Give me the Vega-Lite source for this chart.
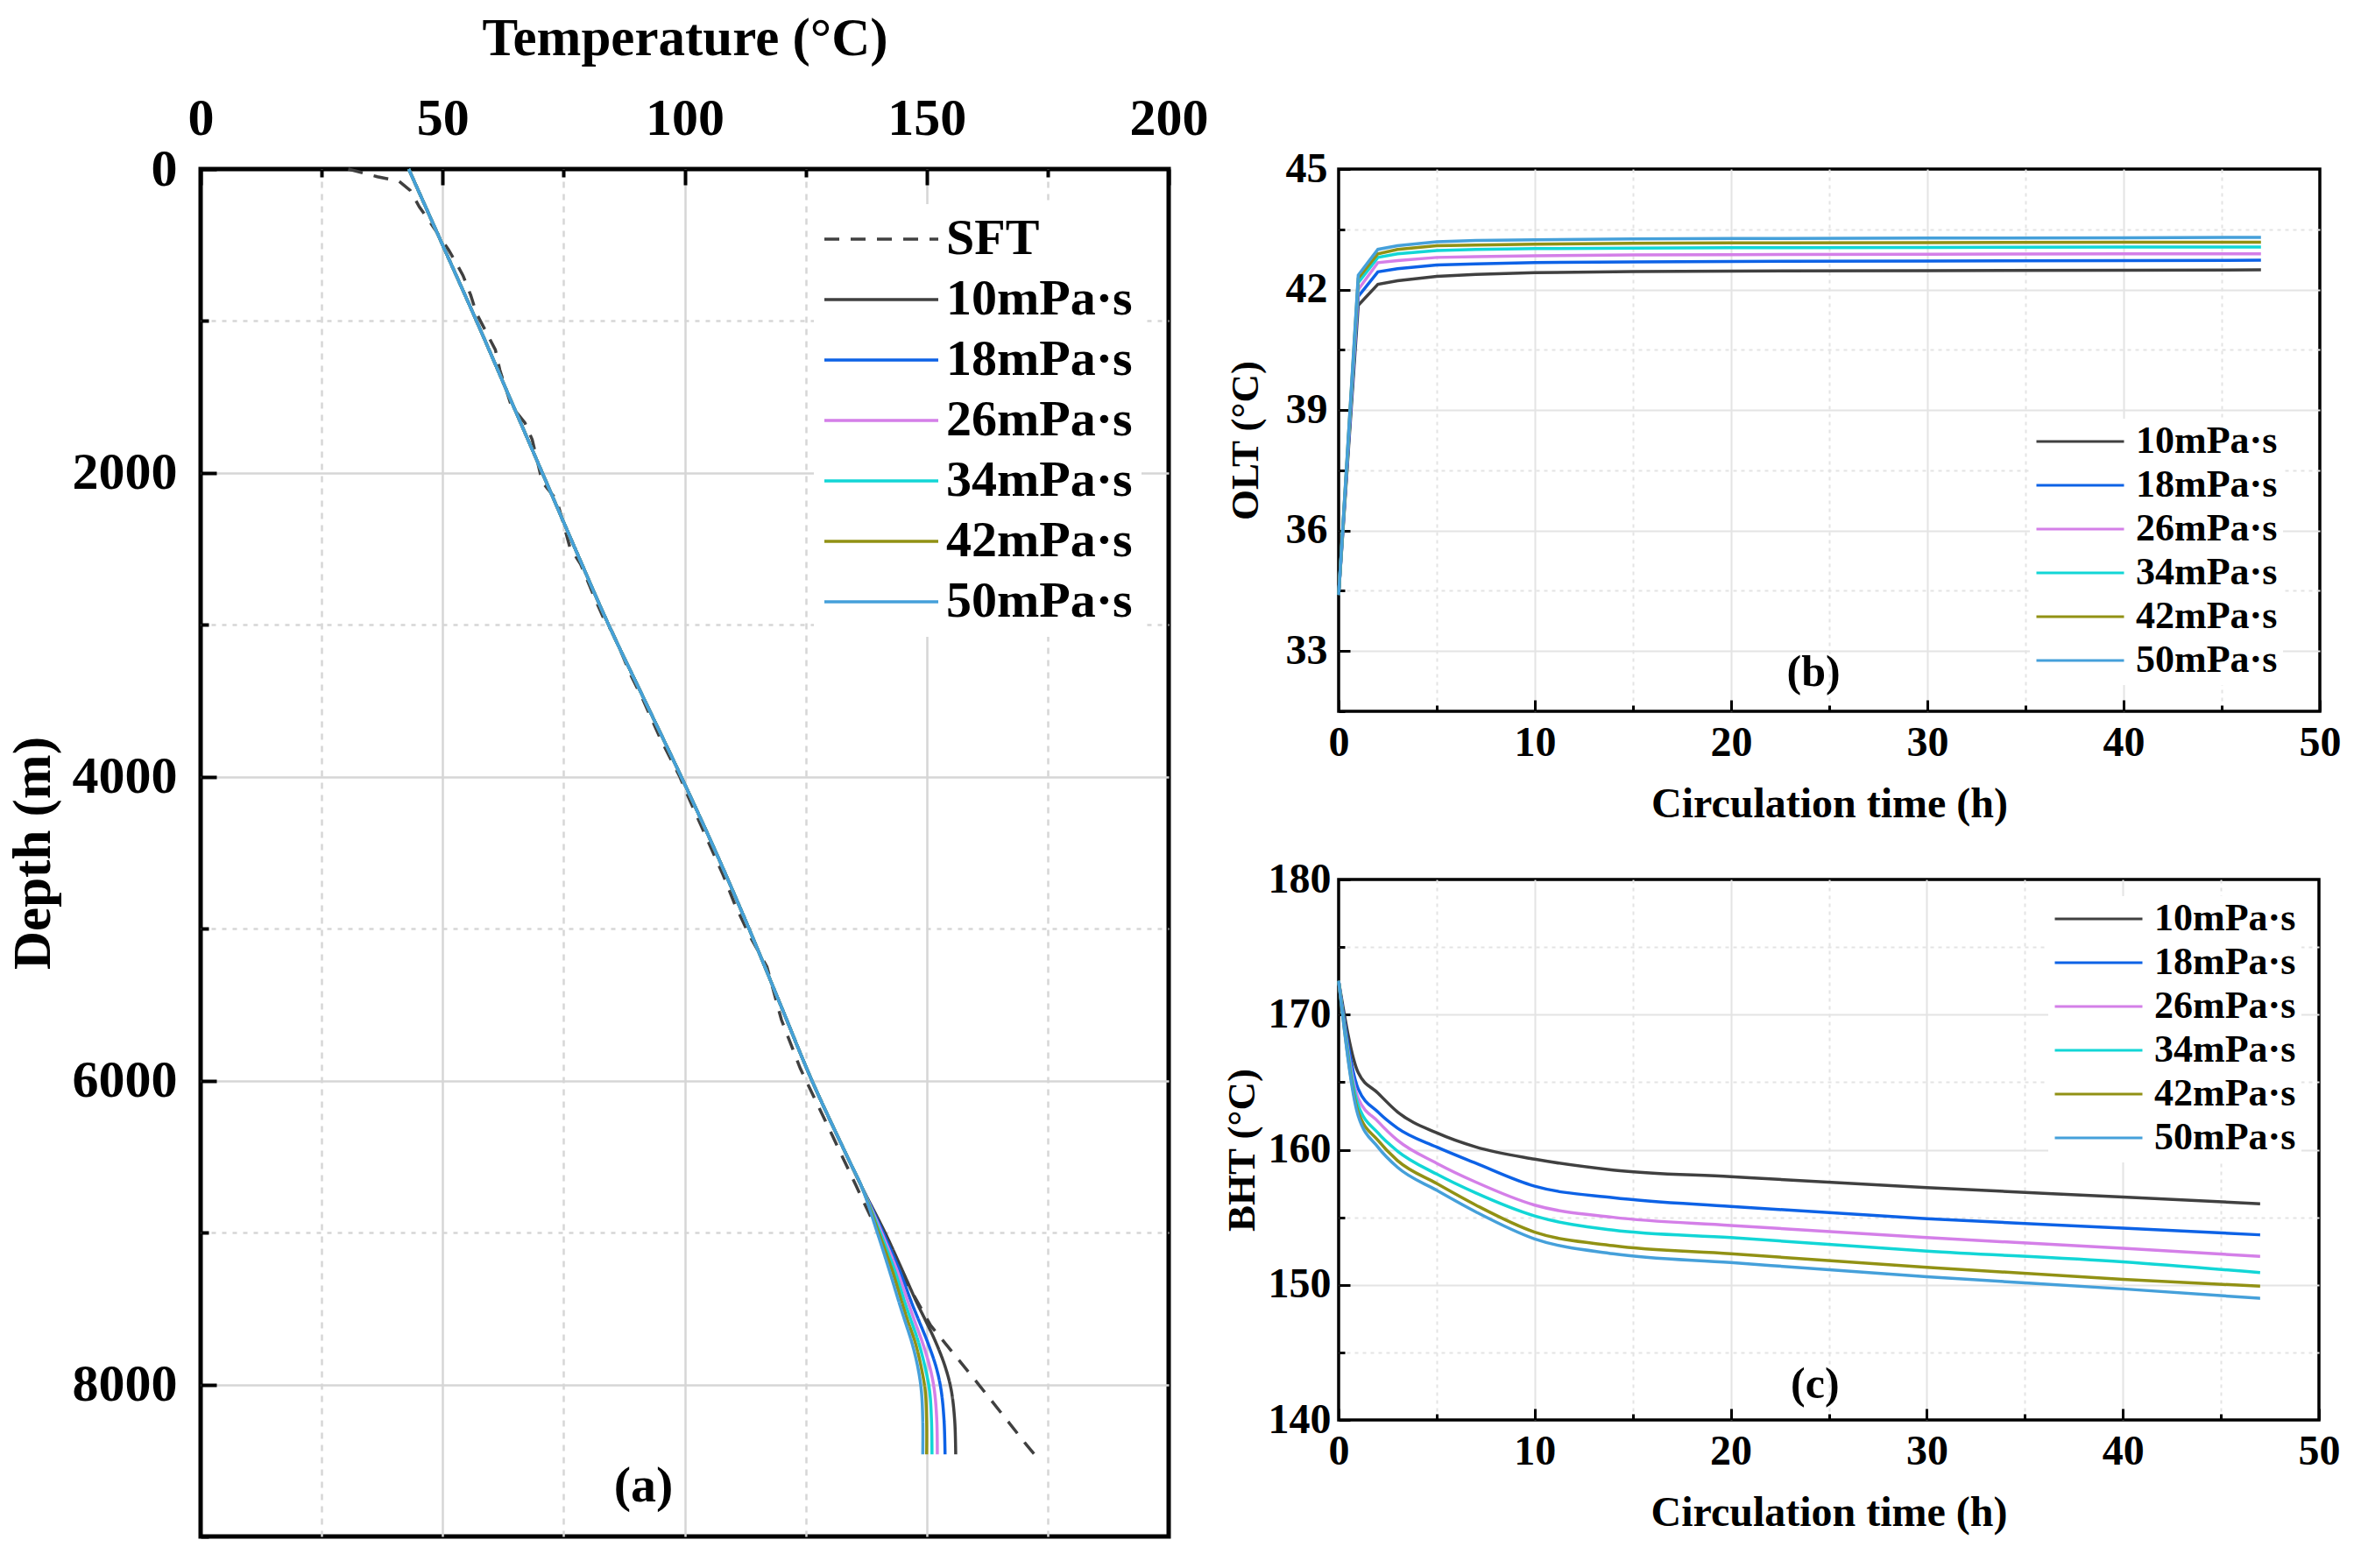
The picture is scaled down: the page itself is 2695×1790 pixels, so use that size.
{
  "$schema": "https://vega.github.io/schema/vega-lite/v6.json",
  "background": "white",
  "padding": {"left": 4, "top": 10, "right": 0, "bottom": 0},
  "bounds": "flush",
  "spacing": 194,
  "resolve": {
    "scale": {"color": "independent", "strokeDash": "independent", "x": "independent", "y": "independent"},
    "legend": {"color": "independent", "strokeDash": "independent"}
  },
  "config": {
    "font": "Liberation Serif",
    "axis": {
      "labelFont": "Liberation Serif", "titleFont": "Liberation Serif",
      "labelFontWeight": "bold", "titleFontWeight": "bold",
      "labelColor": "#000", "titleColor": "#000", "tickColor": "#000",
      "domain": false, "labelOverlap": false, "labelFlush": false
    },
    "legend": {
      "labelFont": "Liberation Serif", "labelFontWeight": "bold", "labelColor": "#000",
      "symbolType": "stroke", "labelLimit": 0, "orient": "none", "fillColor": "white"
    },
    "text": {"font": "Liberation Serif", "fontWeight": "bold", "color": "#000"}
  },
  "datasets": {
    "prof": [
      {"s": "SFT", "d": 0, "T": 30.5}, {"s": "SFT", "d": 50, "T": 36.5}, {"s": "SFT", "d": 80, "T": 41},
      {"s": "SFT", "d": 140, "T": 43.3}, {"s": "SFT", "d": 250, "T": 45.2}, {"s": "SFT", "d": 330, "T": 47},
      {"s": "SFT", "d": 530, "T": 51.2}, {"s": "SFT", "d": 630, "T": 53}, {"s": "SFT", "d": 700, "T": 54.2},
      {"s": "SFT", "d": 830, "T": 55.8}, {"s": "SFT", "d": 950, "T": 57}, {"s": "SFT", "d": 1190, "T": 60.9},
      {"s": "SFT", "d": 1320, "T": 61.8}, {"s": "SFT", "d": 1560, "T": 64.2}, {"s": "SFT", "d": 1670, "T": 67},
      {"s": "SFT", "d": 1780, "T": 68.5}, {"s": "SFT", "d": 2060, "T": 70.6}, {"s": "SFT", "d": 2180, "T": 73.6},
      {"s": "SFT", "d": 2490, "T": 76.3}, {"s": "SFT", "d": 2600, "T": 78.5}, {"s": "SFT", "d": 2830, "T": 81.5},
      {"s": "SFT", "d": 2960, "T": 83.3}, {"s": "SFT", "d": 3050, "T": 85.1}, {"s": "SFT", "d": 3180, "T": 86.9},
      {"s": "SFT", "d": 3320, "T": 88.7}, {"s": "SFT", "d": 3500, "T": 91.5}, {"s": "SFT", "d": 3750, "T": 95},
      {"s": "SFT", "d": 4000, "T": 99}, {"s": "SFT", "d": 4150, "T": 101}, {"s": "SFT", "d": 4400, "T": 104.5},
      {"s": "SFT", "d": 4650, "T": 108}, {"s": "SFT", "d": 4850, "T": 110.5}, {"s": "SFT", "d": 5050, "T": 113.5},
      {"s": "SFT", "d": 5250, "T": 117}, {"s": "SFT", "d": 5600, "T": 120}, {"s": "SFT", "d": 5920, "T": 123.9},
      {"s": "SFT", "d": 6120, "T": 126.9}, {"s": "SFT", "d": 6360, "T": 130.5}, {"s": "SFT", "d": 6690, "T": 135.4},
      {"s": "SFT", "d": 6900, "T": 138.5}, {"s": "SFT", "d": 7250, "T": 144.5}, {"s": "SFT", "d": 7610, "T": 150.8},
      {"s": "SFT", "d": 7990, "T": 160.5}, {"s": "SFT", "d": 8400, "T": 170.7}, {"s": "SFT", "d": 8460, "T": 172.3},

      {"s": "10mPa·s", "d": 0, "T": 43.0}, {"s": "10mPa·s", "d": 500, "T": 50.0}, {"s": "10mPa·s", "d": 1000, "T": 57.0},
      {"s": "10mPa·s", "d": 1500, "T": 63.8}, {"s": "10mPa·s", "d": 2000, "T": 70.6}, {"s": "10mPa·s", "d": 2500, "T": 77.4},
      {"s": "10mPa·s", "d": 3000, "T": 84.3}, {"s": "10mPa·s", "d": 3500, "T": 91.8}, {"s": "10mPa·s", "d": 4000, "T": 99.3},
      {"s": "10mPa·s", "d": 4500, "T": 106.5}, {"s": "10mPa·s", "d": 5000, "T": 113.3}, {"s": "10mPa·s", "d": 5500, "T": 119.8},
      {"s": "10mPa·s", "d": 6000, "T": 126.3}, {"s": "10mPa·s", "d": 6500, "T": 133.6}, {"s": "10mPa·s", "d": 6700, "T": 136.6},
      {"s": "10mPa·s", "d": 7000, "T": 141.4}, {"s": "10mPa·s", "d": 7250, "T": 145.0}, {"s": "10mPa·s", "d": 7470, "T": 148.1},
      {"s": "10mPa·s", "d": 7580, "T": 149.8}, {"s": "10mPa·s", "d": 7730, "T": 152.0}, {"s": "10mPa·s", "d": 7890, "T": 153.9},
      {"s": "10mPa·s", "d": 8040, "T": 155.1}, {"s": "10mPa·s", "d": 8240, "T": 155.8}, {"s": "10mPa·s", "d": 8460, "T": 156.0},

      {"s": "18mPa·s", "d": 0, "T": 43.0}, {"s": "18mPa·s", "d": 500, "T": 50.0}, {"s": "18mPa·s", "d": 1000, "T": 57.0},
      {"s": "18mPa·s", "d": 1500, "T": 63.8}, {"s": "18mPa·s", "d": 2000, "T": 70.6}, {"s": "18mPa·s", "d": 2500, "T": 77.4},
      {"s": "18mPa·s", "d": 3000, "T": 84.3}, {"s": "18mPa·s", "d": 3500, "T": 91.8}, {"s": "18mPa·s", "d": 4000, "T": 99.3},
      {"s": "18mPa·s", "d": 4500, "T": 106.5}, {"s": "18mPa·s", "d": 5000, "T": 113.3}, {"s": "18mPa·s", "d": 5500, "T": 119.8},
      {"s": "18mPa·s", "d": 6000, "T": 126.3}, {"s": "18mPa·s", "d": 6500, "T": 133.6}, {"s": "18mPa·s", "d": 6700, "T": 136.6},
      {"s": "18mPa·s", "d": 7000, "T": 141.0}, {"s": "18mPa·s", "d": 7250, "T": 144.4}, {"s": "18mPa·s", "d": 7470, "T": 147.0},
      {"s": "18mPa·s", "d": 7580, "T": 148.4}, {"s": "18mPa·s", "d": 7730, "T": 150.3}, {"s": "18mPa·s", "d": 7890, "T": 152.0},
      {"s": "18mPa·s", "d": 8040, "T": 153.0}, {"s": "18mPa·s", "d": 8240, "T": 153.6}, {"s": "18mPa·s", "d": 8460, "T": 153.8},

      {"s": "26mPa·s", "d": 0, "T": 43.0}, {"s": "26mPa·s", "d": 500, "T": 50.0}, {"s": "26mPa·s", "d": 1000, "T": 57.0},
      {"s": "26mPa·s", "d": 1500, "T": 63.8}, {"s": "26mPa·s", "d": 2000, "T": 70.6}, {"s": "26mPa·s", "d": 2500, "T": 77.4},
      {"s": "26mPa·s", "d": 3000, "T": 84.3}, {"s": "26mPa·s", "d": 3500, "T": 91.8}, {"s": "26mPa·s", "d": 4000, "T": 99.3},
      {"s": "26mPa·s", "d": 4500, "T": 106.5}, {"s": "26mPa·s", "d": 5000, "T": 113.3}, {"s": "26mPa·s", "d": 5500, "T": 119.8},
      {"s": "26mPa·s", "d": 6000, "T": 126.3}, {"s": "26mPa·s", "d": 6500, "T": 133.6}, {"s": "26mPa·s", "d": 6700, "T": 136.6},
      {"s": "26mPa·s", "d": 7000, "T": 140.7}, {"s": "26mPa·s", "d": 7250, "T": 143.9}, {"s": "26mPa·s", "d": 7470, "T": 146.3},
      {"s": "26mPa·s", "d": 7580, "T": 147.5}, {"s": "26mPa·s", "d": 7730, "T": 149.2}, {"s": "26mPa·s", "d": 7890, "T": 150.7},
      {"s": "26mPa·s", "d": 8040, "T": 151.6}, {"s": "26mPa·s", "d": 8240, "T": 152.1}, {"s": "26mPa·s", "d": 8460, "T": 152.2},

      {"s": "34mPa·s", "d": 0, "T": 43.0}, {"s": "34mPa·s", "d": 500, "T": 50.0}, {"s": "34mPa·s", "d": 1000, "T": 57.0},
      {"s": "34mPa·s", "d": 1500, "T": 63.8}, {"s": "34mPa·s", "d": 2000, "T": 70.6}, {"s": "34mPa·s", "d": 2500, "T": 77.4},
      {"s": "34mPa·s", "d": 3000, "T": 84.3}, {"s": "34mPa·s", "d": 3500, "T": 91.8}, {"s": "34mPa·s", "d": 4000, "T": 99.3},
      {"s": "34mPa·s", "d": 4500, "T": 106.5}, {"s": "34mPa·s", "d": 5000, "T": 113.3}, {"s": "34mPa·s", "d": 5500, "T": 119.8},
      {"s": "34mPa·s", "d": 6000, "T": 126.3}, {"s": "34mPa·s", "d": 6500, "T": 133.6}, {"s": "34mPa·s", "d": 6700, "T": 136.6},
      {"s": "34mPa·s", "d": 7000, "T": 140.4}, {"s": "34mPa·s", "d": 7250, "T": 143.4}, {"s": "34mPa·s", "d": 7470, "T": 145.6},
      {"s": "34mPa·s", "d": 7580, "T": 146.8}, {"s": "34mPa·s", "d": 7730, "T": 148.4}, {"s": "34mPa·s", "d": 7890, "T": 149.7},
      {"s": "34mPa·s", "d": 8040, "T": 150.6}, {"s": "34mPa·s", "d": 8240, "T": 151.0}, {"s": "34mPa·s", "d": 8460, "T": 151.1},

      {"s": "42mPa·s", "d": 0, "T": 43.0}, {"s": "42mPa·s", "d": 500, "T": 50.0}, {"s": "42mPa·s", "d": 1000, "T": 57.0},
      {"s": "42mPa·s", "d": 1500, "T": 63.8}, {"s": "42mPa·s", "d": 2000, "T": 70.6}, {"s": "42mPa·s", "d": 2500, "T": 77.4},
      {"s": "42mPa·s", "d": 3000, "T": 84.3}, {"s": "42mPa·s", "d": 3500, "T": 91.8}, {"s": "42mPa·s", "d": 4000, "T": 99.3},
      {"s": "42mPa·s", "d": 4500, "T": 106.5}, {"s": "42mPa·s", "d": 5000, "T": 113.3}, {"s": "42mPa·s", "d": 5500, "T": 119.8},
      {"s": "42mPa·s", "d": 6000, "T": 126.3}, {"s": "42mPa·s", "d": 6500, "T": 133.6}, {"s": "42mPa·s", "d": 6700, "T": 136.6},
      {"s": "42mPa·s", "d": 7000, "T": 140.1}, {"s": "42mPa·s", "d": 7250, "T": 142.9}, {"s": "42mPa·s", "d": 7470, "T": 145.0},
      {"s": "42mPa·s", "d": 7580, "T": 146.1}, {"s": "42mPa·s", "d": 7730, "T": 147.7}, {"s": "42mPa·s", "d": 7890, "T": 148.9},
      {"s": "42mPa·s", "d": 8040, "T": 149.7}, {"s": "42mPa·s", "d": 8240, "T": 150.0}, {"s": "42mPa·s", "d": 8460, "T": 150.0},

      {"s": "50mPa·s", "d": 0, "T": 43.0}, {"s": "50mPa·s", "d": 500, "T": 50.0}, {"s": "50mPa·s", "d": 1000, "T": 57.0},
      {"s": "50mPa·s", "d": 1500, "T": 63.8}, {"s": "50mPa·s", "d": 2000, "T": 70.6}, {"s": "50mPa·s", "d": 2500, "T": 77.4},
      {"s": "50mPa·s", "d": 3000, "T": 84.3}, {"s": "50mPa·s", "d": 3500, "T": 91.8}, {"s": "50mPa·s", "d": 4000, "T": 99.3},
      {"s": "50mPa·s", "d": 4500, "T": 106.5}, {"s": "50mPa·s", "d": 5000, "T": 113.3}, {"s": "50mPa·s", "d": 5500, "T": 119.8},
      {"s": "50mPa·s", "d": 6000, "T": 126.3}, {"s": "50mPa·s", "d": 6500, "T": 133.6}, {"s": "50mPa·s", "d": 6700, "T": 136.6},
      {"s": "50mPa·s", "d": 7000, "T": 139.8}, {"s": "50mPa·s", "d": 7250, "T": 142.3}, {"s": "50mPa·s", "d": 7470, "T": 144.4},
      {"s": "50mPa·s", "d": 7580, "T": 145.5}, {"s": "50mPa·s", "d": 7730, "T": 147.0}, {"s": "50mPa·s", "d": 7890, "T": 148.2},
      {"s": "50mPa·s", "d": 8040, "T": 148.9}, {"s": "50mPa·s", "d": 8240, "T": 149.2}, {"s": "50mPa·s", "d": 8460, "T": 149.2}
    ],
    "olt": [
      {"s": "10mPa·s", "t": 0, "v": 34.4}, {"s": "10mPa·s", "t": 1, "v": 41.61}, {"s": "10mPa·s", "t": 2, "v": 42.13},
      {"s": "10mPa·s", "t": 3, "v": 42.22}, {"s": "10mPa·s", "t": 5, "v": 42.33}, {"s": "10mPa·s", "t": 7, "v": 42.38},
      {"s": "10mPa·s", "t": 10, "v": 42.42}, {"s": "10mPa·s", "t": 15, "v": 42.45}, {"s": "10mPa·s", "t": 20, "v": 42.46},
      {"s": "10mPa·s", "t": 30, "v": 42.47}, {"s": "10mPa·s", "t": 40, "v": 42.48}, {"s": "10mPa·s", "t": 47, "v": 42.49},
      {"s": "18mPa·s", "t": 0, "v": 34.4}, {"s": "18mPa·s", "t": 1, "v": 41.83}, {"s": "18mPa·s", "t": 2, "v": 42.44},
      {"s": "18mPa·s", "t": 3, "v": 42.52}, {"s": "18mPa·s", "t": 5, "v": 42.61}, {"s": "18mPa·s", "t": 7, "v": 42.64},
      {"s": "18mPa·s", "t": 10, "v": 42.67}, {"s": "18mPa·s", "t": 15, "v": 42.69}, {"s": "18mPa·s", "t": 20, "v": 42.7},
      {"s": "18mPa·s", "t": 30, "v": 42.71}, {"s": "18mPa·s", "t": 40, "v": 42.72}, {"s": "18mPa·s", "t": 47, "v": 42.73},
      {"s": "26mPa·s", "t": 0, "v": 34.4}, {"s": "26mPa·s", "t": 1, "v": 42.0}, {"s": "26mPa·s", "t": 2, "v": 42.67},
      {"s": "26mPa·s", "t": 3, "v": 42.72}, {"s": "26mPa·s", "t": 5, "v": 42.8}, {"s": "26mPa·s", "t": 7, "v": 42.82},
      {"s": "26mPa·s", "t": 10, "v": 42.84}, {"s": "26mPa·s", "t": 15, "v": 42.86}, {"s": "26mPa·s", "t": 20, "v": 42.87},
      {"s": "26mPa·s", "t": 30, "v": 42.88}, {"s": "26mPa·s", "t": 40, "v": 42.89}, {"s": "26mPa·s", "t": 47, "v": 42.89},
      {"s": "34mPa·s", "t": 0, "v": 34.4}, {"s": "34mPa·s", "t": 1, "v": 42.17}, {"s": "34mPa·s", "t": 2, "v": 42.8},
      {"s": "34mPa·s", "t": 3, "v": 42.89}, {"s": "34mPa·s", "t": 5, "v": 42.97}, {"s": "34mPa·s", "t": 7, "v": 43.0},
      {"s": "34mPa·s", "t": 10, "v": 43.02}, {"s": "34mPa·s", "t": 15, "v": 43.03}, {"s": "34mPa·s", "t": 20, "v": 43.04},
      {"s": "34mPa·s", "t": 30, "v": 43.05}, {"s": "34mPa·s", "t": 40, "v": 43.06}, {"s": "34mPa·s", "t": 47, "v": 43.06},
      {"s": "42mPa·s", "t": 0, "v": 34.4}, {"s": "42mPa·s", "t": 1, "v": 42.28}, {"s": "42mPa·s", "t": 2, "v": 42.89},
      {"s": "42mPa·s", "t": 3, "v": 43.0}, {"s": "42mPa·s", "t": 5, "v": 43.09}, {"s": "42mPa·s", "t": 7, "v": 43.11},
      {"s": "42mPa·s", "t": 10, "v": 43.13}, {"s": "42mPa·s", "t": 15, "v": 43.15}, {"s": "42mPa·s", "t": 20, "v": 43.16},
      {"s": "42mPa·s", "t": 30, "v": 43.17}, {"s": "42mPa·s", "t": 40, "v": 43.18}, {"s": "42mPa·s", "t": 47, "v": 43.18},
      {"s": "50mPa·s", "t": 0, "v": 34.4}, {"s": "50mPa·s", "t": 1, "v": 42.36}, {"s": "50mPa·s", "t": 2, "v": 43.0},
      {"s": "50mPa·s", "t": 3, "v": 43.09}, {"s": "50mPa·s", "t": 5, "v": 43.19}, {"s": "50mPa·s", "t": 7, "v": 43.22},
      {"s": "50mPa·s", "t": 10, "v": 43.24}, {"s": "50mPa·s", "t": 15, "v": 43.26}, {"s": "50mPa·s", "t": 20, "v": 43.27},
      {"s": "50mPa·s", "t": 30, "v": 43.28}, {"s": "50mPa·s", "t": 40, "v": 43.29}, {"s": "50mPa·s", "t": 47, "v": 43.3}
    ],
    "bht": [
      {"s": "10mPa·s", "t": 0, "v": 172.5}, {"s": "10mPa·s", "t": 1, "v": 165.7}, {"s": "10mPa·s", "t": 2, "v": 164.2},
      {"s": "10mPa·s", "t": 3, "v": 162.8}, {"s": "10mPa·s", "t": 5, "v": 161.25}, {"s": "10mPa·s", "t": 7, "v": 160.2},
      {"s": "10mPa·s", "t": 10, "v": 159.3}, {"s": "10mPa·s", "t": 14, "v": 158.5}, {"s": "10mPa·s", "t": 20, "v": 158.0},
      {"s": "10mPa·s", "t": 30, "v": 157.2}, {"s": "10mPa·s", "t": 40, "v": 156.5}, {"s": "10mPa·s", "t": 47, "v": 156.0},
      {"s": "18mPa·s", "t": 0, "v": 172.5}, {"s": "18mPa·s", "t": 1, "v": 164.5}, {"s": "18mPa·s", "t": 2, "v": 162.8},
      {"s": "18mPa·s", "t": 3, "v": 161.6}, {"s": "18mPa·s", "t": 5, "v": 160.2}, {"s": "18mPa·s", "t": 7, "v": 159.0},
      {"s": "18mPa·s", "t": 10, "v": 157.3}, {"s": "18mPa·s", "t": 14, "v": 156.45}, {"s": "18mPa·s", "t": 20, "v": 155.8},
      {"s": "18mPa·s", "t": 30, "v": 154.9}, {"s": "18mPa·s", "t": 40, "v": 154.2}, {"s": "18mPa·s", "t": 47, "v": 153.7},
      {"s": "26mPa·s", "t": 0, "v": 172.5}, {"s": "26mPa·s", "t": 1, "v": 163.8}, {"s": "26mPa·s", "t": 2, "v": 162.1},
      {"s": "26mPa·s", "t": 3, "v": 160.7}, {"s": "26mPa·s", "t": 5, "v": 159.0}, {"s": "26mPa·s", "t": 7, "v": 157.6},
      {"s": "26mPa·s", "t": 10, "v": 155.9}, {"s": "26mPa·s", "t": 14, "v": 155.0}, {"s": "26mPa·s", "t": 20, "v": 154.4},
      {"s": "26mPa·s", "t": 30, "v": 153.5}, {"s": "26mPa·s", "t": 40, "v": 152.7}, {"s": "26mPa·s", "t": 47, "v": 152.1},
      {"s": "34mPa·s", "t": 0, "v": 172.5}, {"s": "34mPa·s", "t": 1, "v": 163.3}, {"s": "34mPa·s", "t": 2, "v": 161.25},
      {"s": "34mPa·s", "t": 3, "v": 159.9}, {"s": "34mPa·s", "t": 5, "v": 158.2}, {"s": "34mPa·s", "t": 7, "v": 156.8},
      {"s": "34mPa·s", "t": 10, "v": 155.1}, {"s": "34mPa·s", "t": 14, "v": 154.05}, {"s": "34mPa·s", "t": 20, "v": 153.5},
      {"s": "34mPa·s", "t": 30, "v": 152.5}, {"s": "34mPa·s", "t": 40, "v": 151.7}, {"s": "34mPa·s", "t": 47, "v": 150.9},
      {"s": "42mPa·s", "t": 0, "v": 172.5}, {"s": "42mPa·s", "t": 1, "v": 162.8}, {"s": "42mPa·s", "t": 2, "v": 160.7},
      {"s": "42mPa·s", "t": 3, "v": 159.2}, {"s": "42mPa·s", "t": 5, "v": 157.5}, {"s": "42mPa·s", "t": 7, "v": 155.9},
      {"s": "42mPa·s", "t": 10, "v": 153.9}, {"s": "42mPa·s", "t": 14, "v": 152.9}, {"s": "42mPa·s", "t": 20, "v": 152.3},
      {"s": "42mPa·s", "t": 30, "v": 151.3}, {"s": "42mPa·s", "t": 40, "v": 150.4}, {"s": "42mPa·s", "t": 47, "v": 149.9},
      {"s": "50mPa·s", "t": 0, "v": 172.5}, {"s": "50mPa·s", "t": 1, "v": 162.5}, {"s": "50mPa·s", "t": 2, "v": 160.2},
      {"s": "50mPa·s", "t": 3, "v": 158.7}, {"s": "50mPa·s", "t": 5, "v": 157.0}, {"s": "50mPa·s", "t": 7, "v": 155.4},
      {"s": "50mPa·s", "t": 10, "v": 153.4}, {"s": "50mPa·s", "t": 14, "v": 152.3}, {"s": "50mPa·s", "t": 20, "v": 151.65},
      {"s": "50mPa·s", "t": 30, "v": 150.6}, {"s": "50mPa·s", "t": 40, "v": 149.7}, {"s": "50mPa·s", "t": 47, "v": 149.0}
    ]
  },
  "hconcat": [
    {
      "width": 1105,
      "height": 1561,
      "view": {"stroke": "#000", "strokeWidth": 5},
      "layer": [
        {
          "data": {"name": "prof"},
          "transform": [{"filter": "datum.s == 'SFT'"}],
          "mark": {"type": "line", "strokeWidth": 3.5},
          "encoding": {
            "x": {
              "field": "T", "type": "quantitative",
              "scale": {"domain": [0, 200], "nice": false},
              "axis": {
                "orient": "top", "title": "Temperature (°C)",
                "values": [0, 25, 50, 75, 100, 125, 150, 175, 200],
                "labelExpr": "datum.value % 50 == 0 ? datum.label : ''",
                "labelFontSize": 60, "titleFontSize": 61,
                "labelPadding": 45, "titlePadding": 21,
                "tickSize": {"condition": {"test": "datum.value % 50 == 0", "value": -18}, "value": -9},
                "tickWidth": 4,
                "gridColor": "#d6d6d6", "gridWidth": 2.5,
                "gridDash": {"condition": {"test": "datum.value % 50 == 0", "value": []}, "value": [7, 7]},
                "gridOpacity": {"condition": {"test": "datum.value == 0 || datum.value == 200", "value": 0}, "value": 1}
              }
            },
            "y": {
              "field": "d", "type": "quantitative",
              "scale": {"domain": [0, 9000], "reverse": true, "nice": false},
              "axis": {
                "title": "Depth (m)", "format": "d",
                "values": [0, 1000, 2000, 3000, 4000, 5000, 6000, 7000, 8000, 9000],
                "labelExpr": "datum.value % 2000 == 0 && datum.value < 9000 ? datum.label : ''",
                "labelFontSize": 60, "titleFontSize": 61,
                "labelPadding": 45, "titlePadding": 13,
                "tickSize": {"condition": {"test": "datum.value % 2000 == 0", "value": -18}, "value": -9},
                "tickWidth": 4,
                "gridColor": "#d6d6d6", "gridWidth": 2.5,
                "gridDash": {"condition": {"test": "datum.value % 2000 == 0", "value": []}, "value": [5, 7]},
                "gridOpacity": {"condition": {"test": "datum.value == 0 || datum.value == 9000", "value": 0}, "value": 1}
              }
            },
            "order": {"field": "d", "type": "quantitative"},
            "color": {
              "field": "s", "type": "nominal",
              "scale": {
                "domain": ["SFT", "10mPa·s", "18mPa·s", "26mPa·s", "34mPa·s", "42mPa·s", "50mPa·s"],
                "range": ["#404040", "#404040", "#0d62e6", "#d47fe8", "#12d6d6", "#919114", "#45a0da"]
              },
              "legend": {
                "title": null, "legendX": 700, "legendY": 40, "padding": 10,
                "symbolSize": 16900, "symbolStrokeWidth": 3.5, "clipHeight": 60, "rowPadding": 9,
                "labelFontSize": 58, "labelOffset": 7
              }
            },
            "strokeDash": {
              "field": "s", "type": "nominal",
              "scale": {
                "domain": ["SFT", "10mPa·s", "18mPa·s", "26mPa·s", "34mPa·s", "42mPa·s", "50mPa·s"],
                "range": [[17, 13], [1, 0], [1, 0], [1, 0], [1, 0], [1, 0], [1, 0]]
              },
              "legend": {
                "title": null, "legendX": 700, "legendY": 40, "padding": 10,
                "symbolSize": 16900, "symbolStrokeWidth": 3.5, "clipHeight": 60, "rowPadding": 9,
                "labelFontSize": 58, "labelOffset": 7
              }
            }
          }
        },
        {
          "data": {"name": "prof"},
          "transform": [{"filter": "datum.s != 'SFT'"}],
          "mark": {"type": "line", "strokeWidth": 3.5, "interpolate": "catmull-rom"},
          "encoding": {
            "x": {"field": "T", "type": "quantitative", "scale": {"domain": [0, 200], "nice": false}},
            "y": {"field": "d", "type": "quantitative", "scale": {"domain": [0, 9000], "reverse": true, "nice": false}},
            "order": {"field": "d", "type": "quantitative"},
            "color": {"field": "s", "type": "nominal"},
            "strokeDash": {"field": "s", "type": "nominal"}
          }
        },
        {
          "data": {"values": [{"label": "(a)"}]},
          "mark": {"type": "text", "fontSize": 58},
          "encoding": {
            "text": {"field": "label", "type": "nominal"},
            "x": {"datum": 91.5, "type": "quantitative"},
            "y": {"datum": 8670, "type": "quantitative"}
          }
        }
      ]
    },
    {
      "spacing": 34,
      "resolve": {
        "scale": {"color": "independent", "x": "independent", "y": "independent"},
        "legend": {"color": "independent"}
      },
      "vconcat": [
        {
          "width": 1120,
          "height": 619,
          "view": {"stroke": "#000", "strokeWidth": 3.5},
          "layer": [
            {
              "data": {"name": "olt"},
              "mark": {"type": "line", "strokeWidth": 3.5},
              "encoding": {
                "x": {
                  "field": "t", "type": "quantitative",
                  "scale": {"domain": [0, 50], "nice": false},
                  "axis": {
                    "title": "Circulation time (h)",
                    "values": [0, 5, 10, 15, 20, 25, 30, 35, 40, 45, 50],
                    "labelExpr": "datum.value % 10 == 0 ? datum.label : ''",
                    "labelFontSize": 48, "titleFontSize": 48,
                    "labelPadding": 25, "titlePadding": 16,
                    "tickSize": {"condition": {"test": "datum.value % 10 == 0", "value": -13}, "value": -7},
                    "tickWidth": 3,
                    "gridColor": "#e4e4e4", "gridWidth": 2,
                    "gridDash": {"condition": {"test": "datum.value % 10 == 0", "value": []}, "value": [4, 5]},
                    "gridOpacity": {"condition": {"test": "datum.value == 0 || datum.value == 50", "value": 0}, "value": 1}
                  }
                },
                "y": {
                  "field": "v", "type": "quantitative",
                  "scale": {"domain": [31.5, 45], "nice": false, "zero": false},
                  "axis": {
                    "title": "OLT (°C)",
                    "values": [31.5, 33, 34.5, 36, 37.5, 39, 40.5, 42, 43.5, 45],
                    "labelExpr": "datum.value % 3 == 0 ? datum.label : ''",
                    "labelFontSize": 48, "titleFontSize": 45,
                    "labelPadding": 26, "titlePadding": 23,
                    "tickSize": {"condition": {"test": "datum.value % 3 == 0", "value": -13}, "value": -7},
                    "tickWidth": 3,
                    "gridColor": "#e4e4e4", "gridWidth": 2,
                    "gridDash": {"condition": {"test": "datum.value % 3 == 0", "value": []}, "value": [4, 5]},
                    "gridOpacity": {"condition": {"test": "datum.value == 31.5 || datum.value == 45", "value": 0}, "value": 1}
                  }
                },
                "color": {
                  "field": "s", "type": "nominal",
                  "scale": {
                    "domain": ["10mPa·s", "18mPa·s", "26mPa·s", "34mPa·s", "42mPa·s", "50mPa·s"],
                    "range": ["#404040", "#0d62e6", "#d47fe8", "#12d6d6", "#919114", "#45a0da"]
                  },
                  "legend": {
                    "title": null, "legendX": 789, "legendY": 285, "padding": 6,
                    "symbolSize": 10000, "symbolStrokeWidth": 3, "clipHeight": 40, "rowPadding": 6,
                    "labelFontSize": 44, "labelOffset": 12
                  }
                }
              }
            },
            {
              "data": {"values": [{"label": "(b)"}]},
              "mark": {"type": "text", "fontSize": 50},
              "encoding": {
                "text": {"field": "label", "type": "nominal"},
                "x": {"datum": 24.2, "type": "quantitative"},
                "y": {"datum": 32.45, "type": "quantitative"}
              }
            }
          ]
        },
        {
          "width": 1119,
          "height": 617,
          "view": {"stroke": "#000", "strokeWidth": 3.5},
          "layer": [
            {
              "data": {"name": "bht"},
              "mark": {"type": "line", "strokeWidth": 3.5, "interpolate": "monotone"},
              "encoding": {
                "x": {
                  "field": "t", "type": "quantitative",
                  "scale": {"domain": [0, 50], "nice": false},
                  "axis": {
                    "title": "Circulation time (h)",
                    "values": [0, 5, 10, 15, 20, 25, 30, 35, 40, 45, 50],
                    "labelExpr": "datum.value % 10 == 0 ? datum.label : ''",
                    "labelFontSize": 48, "titleFontSize": 48,
                    "labelPadding": 25, "titlePadding": 16,
                    "tickSize": {"condition": {"test": "datum.value % 10 == 0", "value": -13}, "value": -7},
                    "tickWidth": 3,
                    "gridColor": "#e4e4e4", "gridWidth": 2,
                    "gridDash": {"condition": {"test": "datum.value % 10 == 0", "value": []}, "value": [4, 5]},
                    "gridOpacity": {"condition": {"test": "datum.value == 0 || datum.value == 50", "value": 0}, "value": 1}
                  }
                },
                "y": {
                  "field": "v", "type": "quantitative",
                  "scale": {"domain": [140, 180], "nice": false, "zero": false},
                  "axis": {
                    "title": "BHT (°C)",
                    "values": [140, 145, 150, 155, 160, 165, 170, 175, 180],
                    "labelExpr": "datum.value % 10 == 0 ? datum.label : ''",
                    "labelFontSize": 48, "titleFontSize": 45,
                    "labelPadding": 22, "titlePadding": 7,
                    "tickSize": {"condition": {"test": "datum.value % 10 == 0", "value": -13}, "value": -7},
                    "tickWidth": 3,
                    "gridColor": "#e4e4e4", "gridWidth": 2,
                    "gridDash": {"condition": {"test": "datum.value % 10 == 0", "value": []}, "value": [4, 5]},
                    "gridOpacity": {"condition": {"test": "datum.value == 140 || datum.value == 180", "value": 0}, "value": 1}
                  }
                },
                "color": {
                  "field": "s", "type": "nominal",
                  "scale": {
                    "domain": ["10mPa·s", "18mPa·s", "26mPa·s", "34mPa·s", "42mPa·s", "50mPa·s"],
                    "range": ["#404040", "#0d62e6", "#d47fe8", "#12d6d6", "#919114", "#45a0da"]
                  },
                  "legend": {
                    "title": null, "legendX": 810, "legendY": 19, "padding": 6,
                    "symbolSize": 10000, "symbolStrokeWidth": 3, "clipHeight": 40, "rowPadding": 6,
                    "labelFontSize": 44, "labelOffset": 12
                  }
                }
              }
            },
            {
              "data": {"values": [{"label": "(c)"}]},
              "mark": {"type": "text", "fontSize": 50},
              "encoding": {
                "text": {"field": "label", "type": "nominal"},
                "x": {"datum": 24.3, "type": "quantitative"},
                "y": {"datum": 142.6, "type": "quantitative"}
              }
            }
          ]
        }
      ]
    }
  ]
}
